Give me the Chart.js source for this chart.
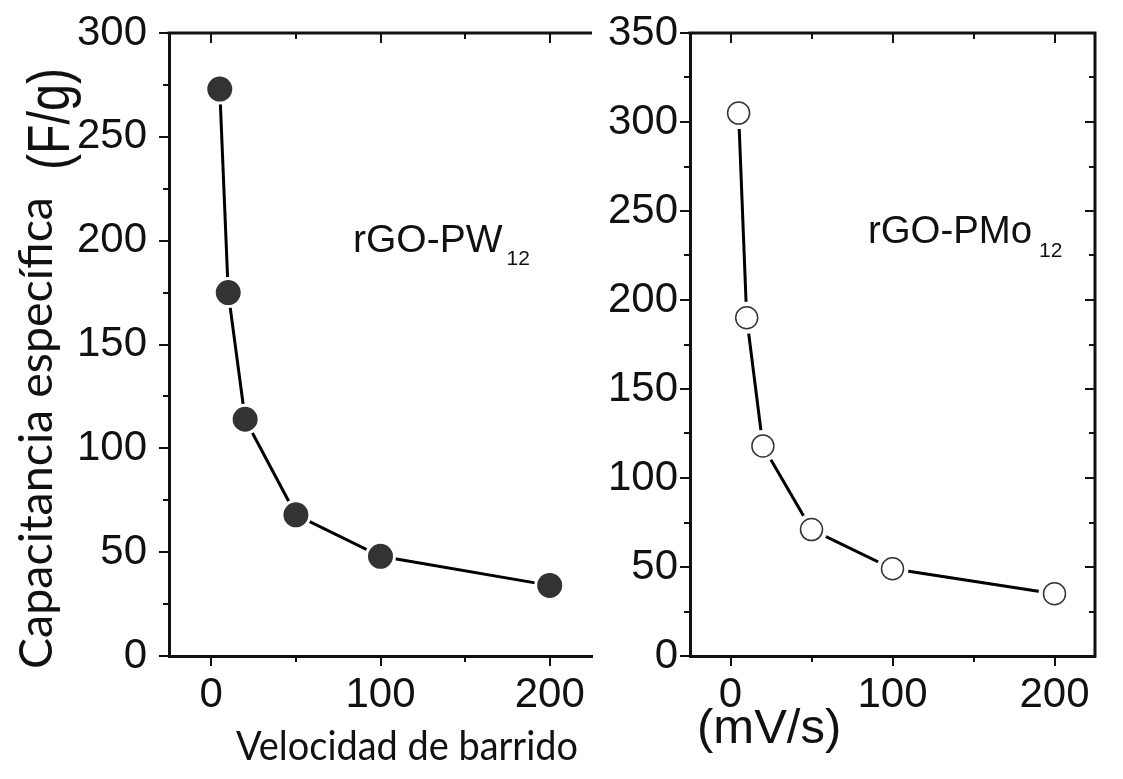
<!DOCTYPE html>
<html>
<head>
<meta charset="utf-8">
<script src="https://cdn.jsdelivr.net/npm/chart.js@4/dist/chart.umd.min.js"></script>
<style>
html,body{margin:0;padding:0;background:#fff;}
#wrap{position:relative;width:1123px;height:779px;overflow:hidden;background:#fff;}
canvas{position:absolute;left:0;top:0;}
</style>
</head>
<body>
<div id="wrap">
<canvas id="c1" width="1123" height="779"></canvas>
<canvas id="c2" width="1123" height="779"></canvas>
</div>
<script>
// ---- data ----
const scanRates = [5, 10, 20, 50, 100, 200];          // mV/s
const capPW12  = [273, 175, 114, 68, 48, 34];          // F/g, rGO-PW12
const capPMo12 = [305, 190, 118, 71, 49, 35];          // F/g, rGO-PMo12
const xTicks = [0, 100, 200];
const xMinorTicks = [50, 150];
const yTicksLeft = [0, 50, 100, 150, 200, 250, 300];
const yMinorLeft = [25, 75, 125, 175, 225, 275];
const yTicksRight = [0, 50, 100, 150, 200, 250, 300, 350];
const yMinorRight = [25, 75, 125, 175, 225, 275, 325];
const yTitle = 'Capacitancia específica';
const yUnit = '(F/g)';
const xTitle = 'Velocidad de barrido';
const xUnit = '(mV/s)';
const labelPW = ['rGO-PW', '12'];
const labelPMo = ['rGO-PMo', '12'];

Chart.defaults.font.family = "'Liberation Sans', Arial, sans-serif";
Chart.defaults.color = '#111';

const INK = '#111';
const AX_W = 3;

function pts(ys){ return scanRates.map((x,i)=>({x:x, y:ys[i]})); }

function noPad(s){ s.paddingTop = 0; s.paddingBottom = 0; s.paddingLeft = 0; s.paddingRight = 0; }

function tickPlugin(cfg){
  return {
    id:'tickMarks',
    afterDraw(chart){
      const ctx = chart.ctx, a = chart.chartArea;
      const xs = chart.scales.x, ys = chart.scales.y;
      ctx.save();
      ctx.strokeStyle = INK;
      ctx.lineCap = 'butt';
      ctx.lineWidth = AX_W;
      ctx.beginPath();
      ctx.moveTo(a.left - 1.5, a.top); ctx.lineTo(a.right + (cfg.right?1.5:0), a.top);
      if (cfg.right){ ctx.moveTo(a.right, a.top); ctx.lineTo(a.right, a.bottom + 1.5); }
      ctx.stroke();
      ctx.lineWidth = 2;
      const MAJ = 10, MIN = 6;
      ctx.beginPath();
      const xAll = xTicks.map(v=>[v,MAJ]).concat(xMinorTicks.map(v=>[v,MIN]));
      xAll.forEach(([v,l])=>{
        const px = Math.round(xs.getPixelForValue(v));
        ctx.moveTo(px, a.bottom); ctx.lineTo(px, a.bottom + l);   // bottom, outward
        ctx.moveTo(px, a.top); ctx.lineTo(px, a.top + l);         // top, inward
      });
      const yAll = cfg.yMajor.map(v=>[v,MAJ]).concat(cfg.yMinor.map(v=>[v,MIN]));
      yAll.forEach(([v,l])=>{
        const py = Math.round(ys.getPixelForValue(v));
        ctx.moveTo(a.left, py); ctx.lineTo(a.left - l, py);      // left, outward
        if (cfg.right){ ctx.moveTo(a.right, py); ctx.lineTo(a.right - l, py); } // right, inward
      });
      ctx.stroke();
      ctx.restore();
    }
  };
}

function seriesLabel(parts, x, y, gap, subDrop){
  return {
    id:'seriesLabel',
    afterDraw(chart){
      const ctx = chart.ctx;
      ctx.save();
      ctx.fillStyle = INK;
      ctx.textBaseline = 'alphabetic';
      ctx.textAlign = 'left';
      ctx.font = "39px 'Liberation Sans', Arial, sans-serif";
      const w = Math.min(ctx.measureText(parts[0]).width, parts[2]);
      ctx.fillText(parts[0], x, y, parts[2]);
      ctx.font = "21px 'Liberation Sans', Arial, sans-serif";
      ctx.fillText(parts[1], x + w + gap, y + subDrop);
      ctx.restore();
    }
  };
}

const titlePlugin = {
  id:'titles',
  afterDraw(chart){
    const ctx = chart.ctx;
    ctx.save();
    ctx.fillStyle = INK;
    ctx.textBaseline = 'alphabetic';
    ctx.textAlign = 'left';
    ctx.save();
    ctx.translate(52, 669);
    ctx.rotate(-Math.PI/2);
    ctx.font = "47px Lato, 'Open Sans', sans-serif";
    ctx.fillText(yTitle, 0, 0, 472);
    ctx.restore();
    ctx.save();
    ctx.translate(69, 170);
    ctx.rotate(-Math.PI/2);
    ctx.font = "60px 'Liberation Sans', Arial, sans-serif";
    ctx.fillText(yUnit, 0, 0, 102);
    ctx.restore();
    ctx.font = "40px Lato, 'Open Sans', sans-serif";
    ctx.fillText(xTitle, 236, 760, 342);
    ctx.font = "49px 'Liberation Sans', Arial, sans-serif";
    ctx.fillText(xUnit, 697, 743, 150);
    ctx.restore();
  }
};

function makeScales(yMax, yTicks, yWidth, yPad){
  return {
    x: {
      type:'linear', position:'bottom', min:-25, max:225,
      afterBuildTicks: s => { s.ticks = xTicks.map(v=>({value:v})); },
      afterFit: s => { s.height = 779 - 656; noPad(s); },
      grid:{display:false, drawTicks:false},
      border:{display:true, color:INK, width:AX_W},
      ticks:{padding:14, maxRotation:0, autoSkip:false, color:INK, font:{size:42}}
    },
    y: {
      type:'linear', position:'left', min:0, max:yMax,
      afterBuildTicks: s => { s.ticks = yTicks.map(v=>({value:v})); },
      afterFit: s => { s.width = yWidth; noPad(s); },
      grid:{display:false, drawTicks:false},
      border:{display:true, color:INK, width:AX_W},
      ticks:{padding:yPad, autoSkip:false, color:INK, font:{size:42}}
    }
  };
}

const common = {
  responsive:false, animation:false, devicePixelRatio:1,
  plugins:{legend:{display:false}, tooltip:{enabled:false}}
};

new Chart(document.getElementById('c1'), {
  type:'scatter',
  data:{datasets:[{
    data: pts(capPW12), showLine:true,
    borderColor:'#000', borderWidth:3,
    pointRadius:14, pointBackgroundColor:'#333', pointBorderColor:'#fff', pointBorderWidth:3
  }]},
  options: Object.assign({}, common, {
    layout:{padding:{left:0, top:33, right:1123-592, bottom:0}},
    scales: makeScales(300, yTicksLeft, 169, 22)
  }),
  plugins:[tickPlugin({right:false, yMajor:yTicksLeft, yMinor:yMinorLeft}),
           seriesLabel([labelPW[0], labelPW[1], 150], 353, 252, 4, 13),
           titlePlugin]
});

new Chart(document.getElementById('c2'), {
  type:'scatter',
  data:{datasets:[
    { data: pts(capPMo12), showLine:true, order:2,
      borderColor:'#000', borderWidth:3,
      pointRadius:16, pointBackgroundColor:'#fff', pointBorderWidth:0 },
    { data: pts(capPMo12), showLine:false, order:1,
      pointRadius:11, pointBackgroundColor:'#fff', pointBorderColor:'#333', pointBorderWidth:1.5 }
  ]},
  options: Object.assign({}, common, {
    layout:{padding:{left:0, top:33, right:1123-1095, bottom:0}},
    scales: makeScales(350, yTicksRight, 690, 12)
  }),
  plugins:[tickPlugin({right:true, yMajor:yTicksRight, yMinor:yMinorRight}),
           seriesLabel([labelPMo[0], labelPMo[1], 164], 868, 243, 7, 14)]
});
</script>
</body>
</html>
